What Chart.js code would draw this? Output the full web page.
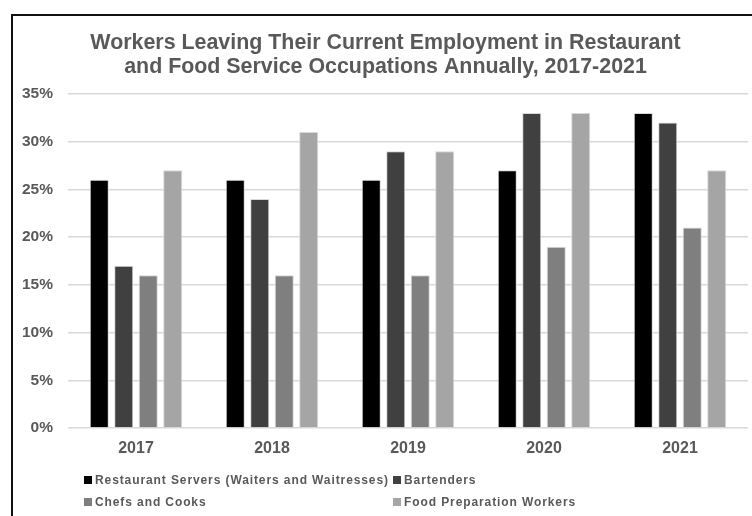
<!DOCTYPE html>
<html>
<head>
<meta charset="utf-8">
<script src="https://cdn.jsdelivr.net/npm/chart.js@4"></script>
<style>
  html, body { margin: 0; padding: 0; background: #fff; overflow: hidden; }
  #frame {
    position: absolute; left: 11px; top: 14px;
    width: 800px; height: 600px;
    border: 2px solid #111; background: #fff;
  }
  #wrap { position: absolute; left: 0; top: 0; width: 752px; height: 516px; }
</style>
</head>
<body>
<div id="frame"></div>
<div id="wrap"><canvas id="turnoverChart" width="752" height="516"></canvas></div>
<script>
// Chart values
const years = ["2017", "2018", "2019", "2020", "2021"];
const seriesNames = [
  "Restaurant Servers (Waiters and Waitresses)",
  "Bartenders",
  "Chefs and Cooks",
  "Food Preparation Workers",
];
const servers = [26, 26, 26, 27, 33];
const bartenders = [17, 24, 29, 33, 32];
const chefs = [16, 16, 16, 19, 21];
const foodPrep = [27, 31, 29, 33, 27];
const seriesColors = ["#000000", "#404040", "#7f7f7f", "#a5a5a5"];

const textGrey = "#595959";
const fontFamily = "'Liberation Sans', Arial, sans-serif";

// Title is centred on the outer frame, not the canvas
const shiftTitle = {
  id: "shiftTitle",
  afterLayout(chart) {
    if (chart.titleBlock) chart.titleBlock.left = 23;
  },
};

// Draws the two-column legend like the Excel original
const gridLegend = {
  id: "gridLegend",
  afterDraw(chart) {
    const ctx = chart.ctx;
    const cols = [84, 393];
    const rows = [480, 502];
    ctx.save();
    ctx.font = "bold 12px " + fontFamily;
    ctx.textBaseline = "middle";
    ctx.textAlign = "left";
    if ("letterSpacing" in ctx) ctx.letterSpacing = "0.9px";
    chart.data.datasets.forEach((ds, i) => {
      const x = cols[i % 2];
      const y = rows[Math.floor(i / 2)];
      ctx.fillStyle = ds.backgroundColor;
      ctx.fillRect(x, y - 4, 8, 8);
      ctx.fillStyle = textGrey;
      ctx.fillText(ds.label, x + 11, y + 1);
    });
    ctx.restore();
  },
};

const turnover_ctx = document.getElementById("turnoverChart").getContext("2d");

new Chart(turnover_ctx, {
  type: "bar",
  data: {
    labels: years,
    datasets: [servers, bartenders, chefs, foodPrep].map((values, i) => ({
      label: seriesNames[i],
      data: values,
      backgroundColor: seriesColors[i],
      borderColor: "#d9d9d9",
      borderWidth: 1,
      categoryPercentage: 0.72,
      barPercentage: 0.78,
    })),
  },
  options: {
    responsive: false,
    animation: false,
    layout: { padding: { left: 0, right: 4, top: 0, bottom: 58 } },
    plugins: {
      legend: { display: false },
      tooltip: { enabled: false },
      title: {
        display: true,
        text: [
          "Workers Leaving Their Current Employment in Restaurant",
          "and Food Service Occupations Annually, 2017-2021",
        ],
        color: textGrey,
        font: { family: fontFamily, size: 21.4, weight: "bold", lineHeight: 1.12 },
        padding: { top: 31, bottom: 15 },
      },
    },
    scales: {
      x: {
        grid: { display: false, drawTicks: false },
        border: { display: false },
        ticks: {
          color: textGrey,
          padding: 11,
          font: { family: fontFamily, size: 16, weight: "bold" },
        },
        afterFit: (s) => { s.height = 30; },
      },
      y: {
        min: 0,
        max: 35,
        grid: { color: "#d9d9d9", lineWidth: 1.5, drawTicks: false },
        border: { display: false },
        ticks: {
          stepSize: 5,
          color: textGrey,
          padding: 15,
          font: { family: fontFamily, size: 15.5, weight: "bold" },
          callback: (v) => v + "%",
        },
        afterFit: (s) => { s.width = 68; },
      },
    },
  },
  plugins: [shiftTitle, gridLegend],
});
</script>
</body>
</html>
